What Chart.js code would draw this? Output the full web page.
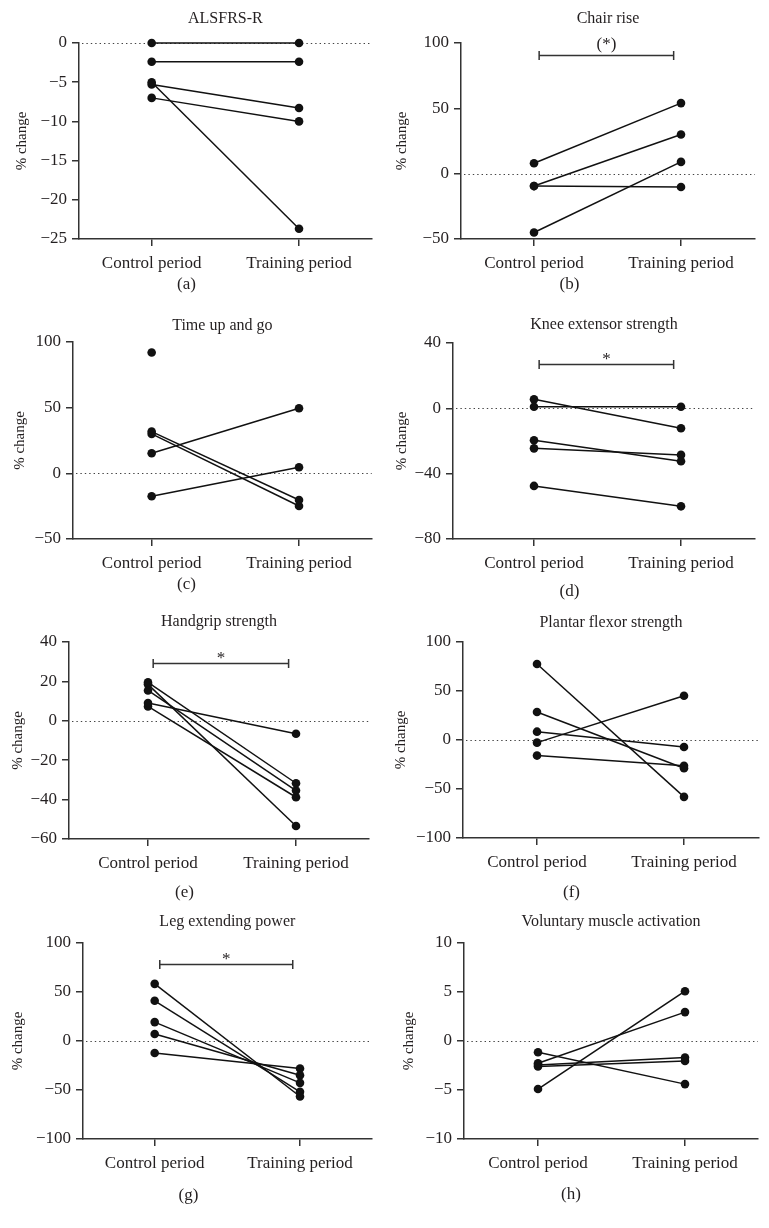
<!DOCTYPE html>
<html><head><meta charset="utf-8">
<script src="https://cdn.jsdelivr.net/npm/chart.js@4.4.1/dist/chart.umd.min.js"></script>
<style>
html,body{margin:0;padding:0;background:#fff;width:769px;height:1228px;overflow:hidden}
.p{position:absolute}
canvas{display:block}
</style></head><body>
<script>
// ---------- data ----------
const periods = ['Control period', 'Training period'];
const panelTitles = ['ALSFRS-R', 'Chair rise', 'Time up and go', 'Knee extensor strength',
  'Handgrip strength', 'Plantar flexor strength', 'Leg extending power', 'Voluntary muscle activation'];
const panelLetters = ['(a)', '(b)', '(c)', '(d)', '(e)', '(f)', '(g)', '(h)'];
const yAxisTitle = '% change';

const alsfrsControl   = [0, -2.4, -5.0, -5.3, -7.0];
const alsfrsTraining  = [0, -2.4, -23.7, -8.3, -10.0];
const chairControl    = [8, -9.5, -9.5, -45];
const chairTraining   = [54, 30, -10.2, 9];
const tugControl      = [92, 31.8, 30.0, 15.3, -17.5];
const tugTraining     = [null, -20.3, -24.9, 49.6, 4.6];
const kneeControl     = [5.5, 1, -19.5, -24.5, -47.5];
const kneeTraining    = [-12.2, 1, -32.4, -28.5, -60];
const gripControl     = [19.5, 18.5, 15.4, 9.0, 7.3];
const gripTraining    = [-31.7, -53.4, -35.4, -6.6, -38.8];
const plantarControl  = [77.5, 28.5, 8.5, -2.7, -15.9];
const plantarTraining = [-58, -28.8, -7.1, 45.1, -26.4];
const legControl      = [58.3, 41, 19.3, 7.1, -12.2];
const legTraining     = [-56.6, -51.9, -42.7, -34.9, -28.1];
const vmaControl      = [-1.15, -2.27, -4.9, -2.45, -2.6];
const vmaTraining     = [-4.4, 2.95, 5.08, -1.69, -2.03];

const controlSeries  = [alsfrsControl, chairControl, tugControl, kneeControl, gripControl, plantarControl, legControl, vmaControl];
const trainingSeries = [alsfrsTraining, chairTraining, tugTraining, kneeTraining, gripTraining, plantarTraining, legTraining, vmaTraining];

const yMin  = [-25, -50, -50, -80, -60, -100, -100, -10];
const yMax  = [0, 100, 100, 40, 40, 100, 100, 10];
const yStep = [5, 50, 50, 40, 20, 50, 50, 5];

const sigLevel = [null, 90.5, null, 27.2, 29.2, null, 78.6, null];
const sigLabel = [null, '(*)', null, '*', '*', null, '*', null];

// ---------- layout (pixels on page) ----------
const boxes = [
  {col:0, c:18,  T:43,  B:239,  L:79,  R:373, t0:152, t1:300, letter:285,  yt:22},
  {col:1, c:18,  T:43,  B:239,  L:461, R:755, t0:534, t1:681, letter:285,  yt:18},
  {col:0, c:325, T:342, B:539,  L:73,  R:373, t0:152, t1:300, letter:585,  yt:20},
  {col:1, c:324, T:343, B:539,  L:453, R:755, t0:534, t1:681, letter:592,  yt:18},
  {col:0, c:621, T:642, B:839,  L:69,  R:369, t0:148, t1:296, letter:893,  yt:18},
  {col:1, c:622, T:642, B:838,  L:463, R:759, t0:537, t1:684, letter:893,  yt:17},
  {col:0, c:921, T:943, B:1139, L:83,  R:377, t0:156, t1:304, letter:1196, yt:18},
  {col:1, c:921, T:943, B:1139, L:464, R:758, t0:538, t1:685, letter:1195, yt:25}
];

const FONT = "'Liberation Serif', 'Times New Roman', serif";
const TEXT = '#231f20';
const AXIS = '#333333';
const fmt = v => v < 0 ? '\u2212' + Math.abs(v) : String(v);

const zeroLine = {
  id: 'zeroLine',
  beforeDatasetsDraw(chart) {
    const {ctx, chartArea: a, scales: {y}} = chart;
    const py = Math.round(y.getPixelForValue(0)) + 0.5;
    ctx.save();
    ctx.setLineDash([1.4, 3]);
    ctx.strokeStyle = '#444';
    ctx.lineWidth = 1.2;
    ctx.beginPath();
    ctx.moveTo(a.left + 3, py);
    ctx.lineTo(a.right, py);
    ctx.stroke();
    ctx.restore();
  }
};

const sigBar = {
  id: 'sigBar',
  afterDatasetsDraw(chart, args, opts) {
    if (opts.level == null) return;
    const {ctx, scales: {x, y}} = chart;
    const py = Math.round(y.getPixelForValue(opts.level)) + 0.5;
    const x0 = x.getPixelForValue(0.035), x1 = x.getPixelForValue(0.95);
    ctx.save();
    ctx.strokeStyle = AXIS;
    ctx.lineWidth = 1.5;
    ctx.beginPath();
    ctx.moveTo(x0, py); ctx.lineTo(x1, py);
    ctx.moveTo(x0, py - 4.5); ctx.lineTo(x0, py + 4.5);
    ctx.moveTo(x1, py - 4.5); ctx.lineTo(x1, py + 4.5);
    ctx.stroke();
    ctx.fillStyle = TEXT;
    ctx.font = '17px ' + FONT;
    ctx.textAlign = 'center';
    ctx.textBaseline = 'alphabetic';
    ctx.fillText(opts.label, (x0 + x1) / 2, py - (opts.label.length > 1 ? 7 : 1));
    ctx.restore();
  }
};

boxes.forEach((b, i) => {
  const left = b.col === 0 ? 0 : 384;
  const width = b.col === 0 ? 376 : 385;
  const top = b.c - 14;
  const bottom = b.letter + 20;
  const height = bottom - top;
  const div = document.createElement('div');
  div.className = 'p';
  div.style.left = left + 'px';
  div.style.top = top + 'px';
  const cv = document.createElement('canvas');
  cv.width = width; cv.height = height;
  cv.style.width = width + 'px'; cv.style.height = height + 'px';
  div.appendChild(cv);
  document.body.appendChild(div);

  const unit = b.t1 - b.t0;
  const xmin = -(b.t0 - b.L) / unit;
  const xmax = 1 + (b.R - b.t1) / unit;

  const ctrl = controlSeries[i], trn = trainingSeries[i];
  const datasets = ctrl.map((cv0, k) => ({
    data: [{x: 0, y: cv0}, {x: 1, y: trn[k]}],
    borderColor: '#111',
    backgroundColor: '#111',
    pointBackgroundColor: '#111',
    pointBorderWidth: 0,
    pointRadius: 4.3,
    pointHoverRadius: 4.3,
    borderWidth: 1.5,
    spanGaps: false,
    clip: false
  }));

  const subH = 17 * 1.2 + 10;

  new Chart(cv, {
    type: 'line',
    data: {datasets},
    options: {
      animation: false,
      responsive: false,
      devicePixelRatio: 1,
      events: [],
      layout: {padding: {left: 0, top: 0, bottom: 0, right: width - (b.R - left)}},
      plugins: {
        legend: {display: false},
        tooltip: {enabled: false},
        title: {
          display: true, text: panelTitles[i], color: TEXT, fullSize: false,
          font: {family: FONT, size: 16, weight: 'normal', lineHeight: 1.2},
          padding: {top: 5, bottom: b.T - b.c - 10.2}
        },
        subtitle: {
          display: true, text: panelLetters[i], color: TEXT, position: 'bottom', fullSize: true,
          font: {family: FONT, size: 17, weight: 'normal', lineHeight: 1.2},
          padding: {top: 0, bottom: 10}
        },
        sigBar: {level: sigLevel[i], label: sigLabel[i]}
      },
      scales: {
        x: {
          type: 'linear', min: xmin, max: xmax,
          afterBuildTicks: s => { s.ticks = [{value: 0}, {value: 1}]; },
          afterFit: s => { s.height = bottom - b.B - subH; },
          ticks: {callback: v => periods[v], color: TEXT, font: {family: FONT, size: 17}, padding: 7, maxRotation: 0, autoSkip: false},
          grid: {drawOnChartArea: false, drawTicks: true, tickLength: 7, color: AXIS, lineWidth: 1.5},
          border: {display: true, color: AXIS, width: 1.5}
        },
        y: {
          min: yMin[i], max: yMax[i],
          afterFit: s => { s.width = b.L - left; },
          ticks: {stepSize: yStep[i], callback: v => fmt(v), color: TEXT, font: {family: FONT, size: 17}, padding: 5},
          grid: {drawOnChartArea: false, drawTicks: true, tickLength: 7, color: AXIS, lineWidth: 1.5},
          border: {display: true, color: AXIS, width: 1.5},
          title: {display: true, text: yAxisTitle, color: TEXT, font: {family: FONT, size: 15, lineHeight: 1.2}, padding: {top: b.yt - 9, bottom: 0}}
        }
      }
    },
    plugins: [zeroLine, sigBar]
  });
});
</script>
</body></html>
